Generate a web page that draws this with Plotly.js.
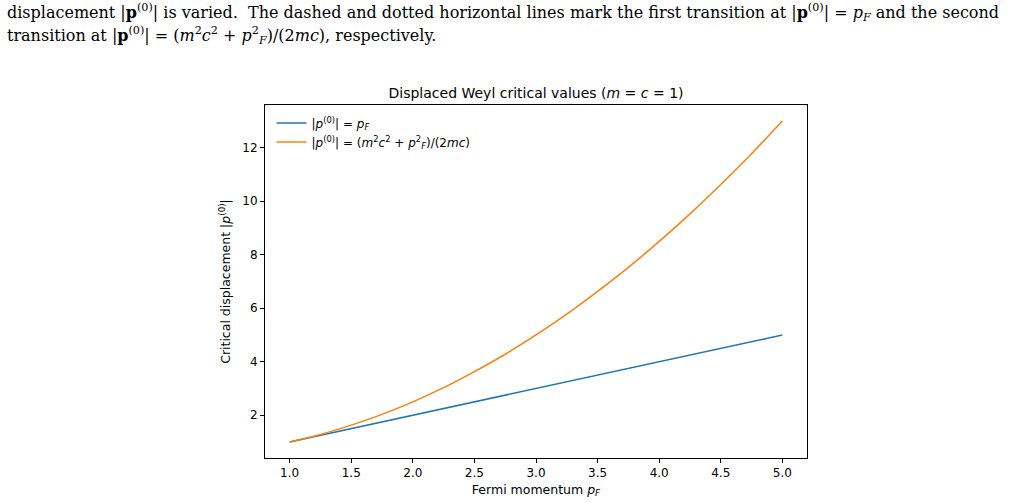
<!DOCTYPE html>
<html><head><meta charset="utf-8">
<script src="https://cdn.plot.ly/plotly-3.0.1.min.js"></script>
<style>html,body{margin:0;padding:0;background:#fff;}#plot{width:1028px;height:503px;}</style>
</head><body><div id="plot"></div>
<script>
// Data
const pF = [1.0,1.25,1.5,1.75,2.0,2.25,2.5,2.75,3.0,3.25,3.5,3.75,4.0,4.25,4.5,4.75,5.0];
const firstTransition = [1.0,1.25,1.5,1.75,2.0,2.25,2.5,2.75,3.0,3.25,3.5,3.75,4.0,4.25,4.5,4.75,5.0];
const secondTransition = [1.0,1.28,1.63,2.03,2.5,3.03,3.63,4.28,5.0,5.78,6.63,7.53,8.5,9.53,10.63,11.78,13.0];
const xTicks = [1.0,1.5,2.0,2.5,3.0,3.5,4.0,4.5,5.0];
const yTicks = [2,4,6,8,10,12];
const seriesNames = ['|<i>p</i><sup>(0)</sup>| = <i>p<sub>F</sub></i>',
                     '|<i>p</i><sup>(0)</sup>| = (<i>m</i><sup>2</sup><i>c</i><sup>2</sup> + <i>p</i><sup>2</sup><sub><i>F</i></sub>)/(2<i>mc</i>)'];
const headerLines = [
 'displacement |<b>p</b><sup>(0)</sup>| is varied.  The dashed and dotted horizontal lines mark the first transition at |<b>p</b><sup>(0)</sup>| = <i>p<sub>F</sub></i> and the second',
 'transition at |<b>p</b><sup>(0)</sup>| = (<i>m</i><sup>2</sup><i>c</i><sup>2</sup> + <i>p</i><sup>2</sup><sub><i>F</i></sub>)/(2<i>mc</i>), respectively.'
];

const sans = 'DejaVu Sans, sans-serif';
const traces = [
 {x:pF, y:firstTransition, type:'scatter', mode:'lines', name:seriesNames[0], line:{color:'#1f77b4', width:1.5}},
 {x:pF, y:secondTransition, type:'scatter', mode:'lines', name:seriesNames[1], line:{color:'#ff7f0e', width:1.5, shape:'spline'}}
];
const axBase = {showline:true, mirror:true, linecolor:'#000', linewidth:1, ticks:'outside', ticklen:4, tickcolor:'#000',
  showgrid:false, zeroline:false, tickfont:{family:sans, size:12, color:'#000'}};
const layout = {
 width:1028, height:503, paper_bgcolor:'#fff', plot_bgcolor:'#fff',
 margin:{l:265, r:221, t:105, b:45},
 showlegend:true,
 legend:{x:0.012, y:0.99, xanchor:'left', yanchor:'top', bgcolor:'rgba(255,255,255,0)', font:{family:sans, size:12, color:'#000'}, tracegroupgap:0, itemwidth:30},
 title:{text:'Displaced Weyl critical values (<i>m</i> = <i>c</i> = 1)', font:{family:sans, size:14, color:'#000'}, x:0.5, xanchor:'center', y:1-93/503, yanchor:'middle', xref:'paper'},
 xaxis:Object.assign({}, axBase, {range:[0.8,5.2], tickvals:xTicks, ticktext:xTicks.map(v=>v.toFixed(1)),
   title:{text:'Fermi momentum <i>p<sub>F</sub></i>', font:{family:sans, size:12.5, color:'#000'}, standoff:5}}),
 yaxis:Object.assign({}, axBase, {range:[0.4,13.6], tickvals:yTicks,
   title:{text:'Critical displacement |<i>p</i><sup>(0)</sup>|', font:{family:sans, size:12.5, color:'#000'}, standoff:8}}),
 annotations: headerLines.map((t,i)=>({text:t, xref:'paper', yref:'paper', x:(5-265)/542, y:1+(105-(12+i*23))/353,
   xanchor:'left', yanchor:'middle', showarrow:false, align:'left', font:{family:'DejaVu Serif, serif', size:16, color:'#000'}}))
};
Plotly.newPlot('plot', traces, layout, {displayModeBar:false, staticPlot:true});
</script></body></html>
